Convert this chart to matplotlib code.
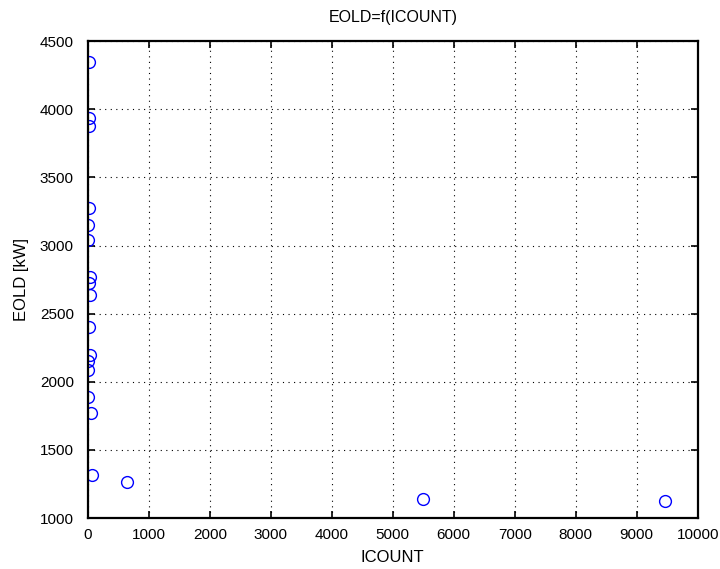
import matplotlib
matplotlib.use("Agg")
import matplotlib.pyplot as plt

plt.rcParams['font.family'] = ['Liberation Sans', 'DejaVu Sans']

# Count of events per case and the associated energy (kW)
icount = [20, 20, 20, 20, 0, 0, 40, 20, 30, 20, 30, 0, 0, 0, 50, 70, 650, 5490, 9460]
eold = [4348, 3934, 3878, 3275, 3154, 3044, 2772, 2728, 2638, 2400, 2200, 2152,
        2084, 1889, 1770, 1318, 1264, 1140, 1127]

x_ticks = [0, 1000, 2000, 3000, 4000, 5000, 6000, 7000, 8000, 9000, 10000]
y_ticks = [1000, 1500, 2000, 2500, 3000, 3500, 4000, 4500]

fig = plt.figure(figsize=(7.2, 5.69), dpi=100)
ax = fig.add_axes([0.122, 0.0896, 0.847, 0.838])

ax.plot(icount, eold, linestyle='none', marker='o', markersize=8.5,
        markerfacecolor='none', markeredgecolor='#0000ff', markeredgewidth=1.0)

ax.set_xlim(0, 10000)
ax.set_ylim(1000, 4500)
ax.set_xticks(x_ticks)
ax.set_yticks(y_ticks)
ax.set_xticklabels([str(v) for v in x_ticks])
ax.set_yticklabels([str(v) for v in y_ticks])

ax.grid(True, color='black', linestyle=(0, (1, 4)), linewidth=0.8)
ax.tick_params(direction='in', length=5, width=1.2, top=True, right=True,
               labelsize=11, colors='black')
ax.tick_params(axis='x', pad=7)
ax.tick_params(axis='y', pad=10)
for s in ax.spines.values():
    s.set_linewidth(1.6)
    s.set_color('black')

ax.set_title('EOLD=f(ICOUNT)', fontsize=11.5, pad=14)
ax.set_xlabel('ICOUNT', fontsize=12, labelpad=6)
ax.set_ylabel('EOLD [kW]', fontsize=12, labelpad=8)

fig.savefig('out.png', dpi=100, facecolor='white')
